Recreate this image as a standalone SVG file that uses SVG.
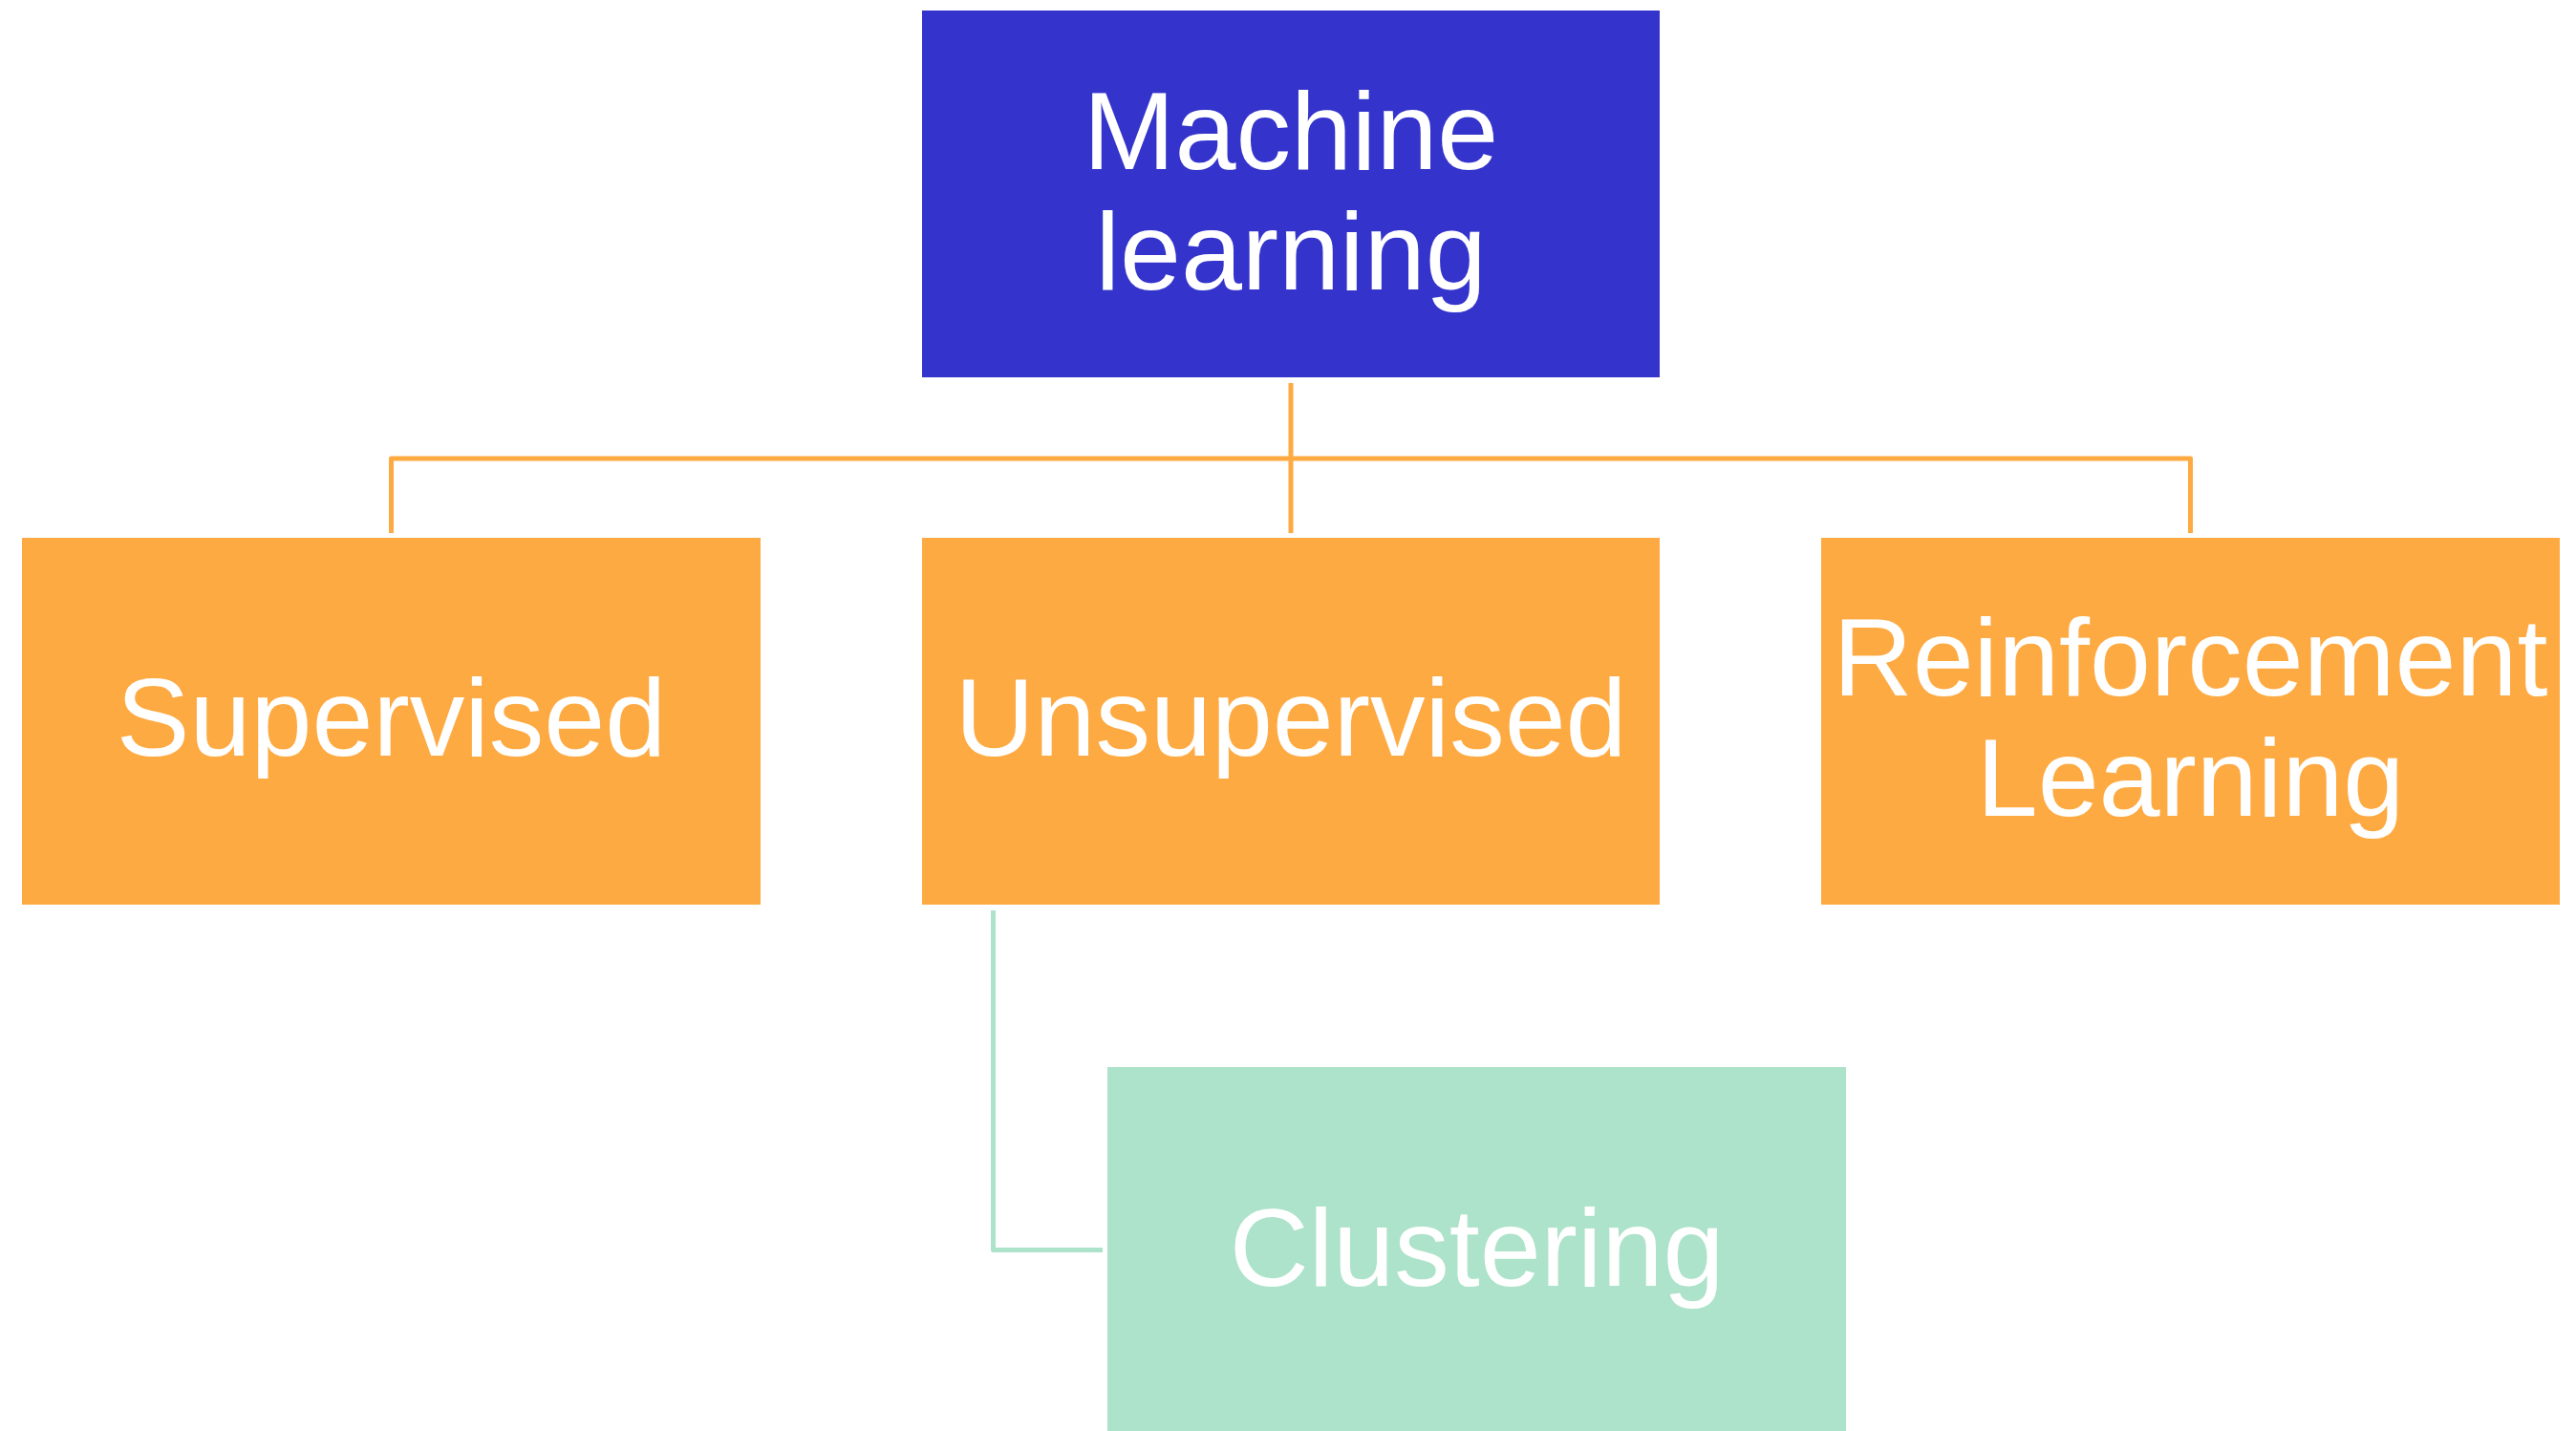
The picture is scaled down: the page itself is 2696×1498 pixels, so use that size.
<svg xmlns="http://www.w3.org/2000/svg" width="2696" height="1498" viewBox="0 0 2696 1498">
<style>
.lbl{font-family:"Liberation Sans",Arial,sans-serif;font-size:115px;fill:#ffffff;text-anchor:middle}
.org{fill:#FEAA43}
.conn{fill:none;stroke-width:5;stroke-linejoin:round}
</style>
<rect width="2696" height="1498" fill="#ffffff"/>
<g id="connectors">
<path class="conn" stroke="#FEAA43" d="M1351,401 V558"/>
<path class="conn" stroke="#FEAA43" d="M409.5,558 V480 H2292.5 V558"/>
<path class="conn" stroke="#ADE3CA" d="M1039.5,953 V1308.5 H1154"/>
</g>
<g id="machine-learning">
<rect x="965" y="11" width="772" height="384" fill="#3434CC"/>
<text class="lbl" x="1351" y="177">Machine</text>
<text class="lbl" x="1351" y="303">learning</text>
</g>
<g id="supervised">
<rect class="org" x="23" y="563" width="773" height="384"/>
<text class="lbl" x="409.5" y="791">Supervised</text>
</g>
<g id="unsupervised">
<rect class="org" x="965" y="563" width="772" height="384"/>
<text class="lbl" x="1351" y="791">Unsupervised</text>
</g>
<g id="reinforcement-learning">
<rect class="org" x="1906" y="563" width="773" height="384"/>
<text class="lbl" x="2292.5" y="728">Reinforcement</text>
<text class="lbl" x="2292.5" y="854">Learning</text>
</g>
<g id="clustering">
<rect x="1159" y="1117" width="773" height="384" fill="#ADE3CA"/>
<text class="lbl" x="1545.5" y="1346">Clustering</text>
</g>
</svg>
